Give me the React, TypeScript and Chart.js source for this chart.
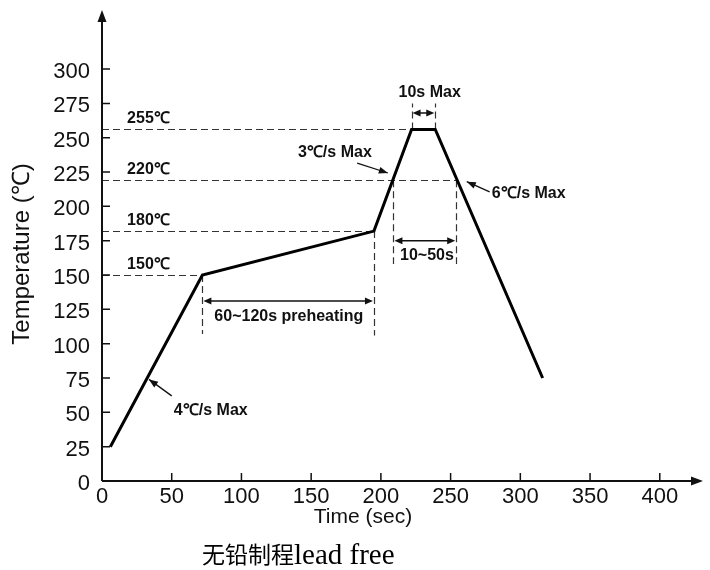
import React, { useEffect, useRef } from "react";
import { Chart, registerables } from "chart.js";

Chart.register(...registerables);

// ---- data ----
const profileTime = [6, 72, 195, 222, 239, 316];
const profileTemp = [25, 150, 182, 256, 256, 75];

const xMax = 431;
const yMax = 343;
const xStep = 50;
const yStep = 25;
const xLastTick = 400;
const yLastTick = 300;

// horizontal reference levels
const refLevels = [150, 182, 219, 256];
const refLabels = ["150℃", "180℃", "220℃", "255℃"];
const refEndTime = [72, 195, 254, 222];
const refLabelTime = 18;

// vertical dashed markers
const markerTime = [72, 195, 209, 254, 222, 239];
const markerFrom = [150, 182, 219, 219, 256, 256];
const markerTo = [107, 106, 158, 158, 275, 275];

// double-headed span arrows
const spanStart = [72, 209, 222];
const spanEnd = [195, 254, 239];
const spanTemp = [131, 175, 268];
const spanLabels = ["60~120s preheating", "10~50s", "10s Max"];
const spanLabelTime = [134, 233, 235];
const spanLabelTemp = [120, 164, 283];

// slope notes with pointer arrows
const slopeLabels = ["4℃/s Max", "3℃/s Max", "6℃/s Max"];
const slopeLabelTime = [78, 167, 306];
const slopeLabelTemp = [51.5, 239.5, 209];
const slopeArrowFromT = [50, 183, 278];
const slopeArrowFromY = [62, 231.5, 210.5];
const slopeArrowToT = [33.7, 205, 261.6];
const slopeArrowToY = [74, 224.3, 218];

const xTitle = "Time (sec)";
const yTitle = "Temperature (℃)";
const captionCJK = "无铅制程";
const captionLatin = "lead free";

const INK = "#111";
const SANS = "'Liberation Sans', Arial, sans-serif";

function head(ctx: CanvasRenderingContext2D, x1: number, y1: number, x2: number, y2: number, len = 9, half = 3.5) {
  const a = Math.atan2(y2 - y1, x2 - x1);
  ctx.beginPath();
  ctx.moveTo(x2, y2);
  ctx.lineTo(x2 - len * Math.cos(a) + half * Math.sin(a), y2 - len * Math.sin(a) - half * Math.cos(a));
  ctx.lineTo(x2 - len * Math.cos(a) - half * Math.sin(a), y2 - len * Math.sin(a) + half * Math.cos(a));
  ctx.closePath();
  ctx.fill();
}

const annotPlugin = {
  id: "annot",
  beforeDatasetsDraw(chart: any) {
    const { ctx } = chart;
    const x = chart.scales.x;
    const y = chart.scales.y;
    ctx.save();
    ctx.strokeStyle = "#333";
    ctx.lineWidth = 1.2;
    ctx.setLineDash([7, 4]);
    refLevels.forEach((lv, i) => {
      const py = Math.round(y.getPixelForValue(lv)) + 0.5;
      ctx.beginPath();
      ctx.moveTo(x.getPixelForValue(0), py);
      ctx.lineTo(x.getPixelForValue(refEndTime[i]), py);
      ctx.stroke();
    });
    markerTime.forEach((t, i) => {
      const px = Math.round(x.getPixelForValue(t)) + 0.5;
      ctx.beginPath();
      ctx.moveTo(px, y.getPixelForValue(markerFrom[i]));
      ctx.lineTo(px, y.getPixelForValue(markerTo[i]));
      ctx.stroke();
    });
    ctx.restore();
  },
  afterDraw(chart: any) {
    const { ctx } = chart;
    const x = chart.scales.x;
    const y = chart.scales.y;
    const area = chart.chartArea;
    ctx.save();
    ctx.fillStyle = INK;
    ctx.strokeStyle = INK;

    // axes with arrows
    ctx.lineWidth = 2;
    const x0 = x.getPixelForValue(0);
    const y0 = y.getPixelForValue(0);
    ctx.beginPath();
    ctx.moveTo(x0, y0);
    ctx.lineTo(area.right - 4, y0);
    ctx.moveTo(x0, y0);
    ctx.lineTo(x0, area.top + 4);
    ctx.stroke();
    head(ctx, x0, y0, area.right, y0, 12, 4.5);
    head(ctx, x0, y0, x0, area.top, 12, 4.5);

    // tick marks (inside)
    ctx.lineWidth = 1.5;
    ctx.beginPath();
    for (let v = xStep; v <= xLastTick; v += xStep) {
      const px = x.getPixelForValue(v);
      ctx.moveTo(px, y0);
      ctx.lineTo(px, y0 - 8);
    }
    for (let v = yStep; v <= yLastTick; v += yStep) {
      const py = y.getPixelForValue(v);
      ctx.moveTo(x0, py);
      ctx.lineTo(x0 + 8, py);
    }
    ctx.stroke();

    // reference labels
    ctx.font = `bold 16px ${SANS}`;
    ctx.textAlign = "left";
    ctx.textBaseline = "alphabetic";
    refLevels.forEach((lv, i) => {
      ctx.fillText(refLabels[i], x.getPixelForValue(refLabelTime), y.getPixelForValue(lv) - 6);
    });

    // span arrows
    ctx.lineWidth = 1.5;
    spanStart.forEach((s, i) => {
      const py = y.getPixelForValue(spanTemp[i]);
      const a = x.getPixelForValue(s) + 1;
      const b = x.getPixelForValue(spanEnd[i]) - 1;
      ctx.beginPath();
      ctx.moveTo(a + 5, py);
      ctx.lineTo(b - 5, py);
      ctx.stroke();
      head(ctx, b, py, a, py, 8, 3.5);
      head(ctx, a, py, b, py, 8, 3.5);
      ctx.textAlign = "center";
      ctx.textBaseline = "middle";
      ctx.fillText(spanLabels[i], x.getPixelForValue(spanLabelTime[i]), y.getPixelForValue(spanLabelTemp[i]));
    });

    // slope notes
    slopeLabels.forEach((lab, i) => {
      const fx = x.getPixelForValue(slopeArrowFromT[i]);
      const fy = y.getPixelForValue(slopeArrowFromY[i]);
      const tx = x.getPixelForValue(slopeArrowToT[i]);
      const ty = y.getPixelForValue(slopeArrowToY[i]);
      ctx.lineWidth = 1.3;
      ctx.beginPath();
      ctx.moveTo(fx, fy);
      ctx.lineTo(tx, ty);
      ctx.stroke();
      head(ctx, fx, fy, tx, ty, 9, 3.5);
      ctx.textAlign = "center";
      ctx.textBaseline = "middle";
      ctx.fillText(lab, x.getPixelForValue(slopeLabelTime[i]), y.getPixelForValue(slopeLabelTemp[i]));
    });

    // axis titles
    ctx.font = `21px ${SANS}`;
    ctx.textAlign = "center";
    ctx.textBaseline = "middle";
    ctx.fillText(xTitle, 363, 517);
    ctx.save();
    ctx.translate(22, 254);
    ctx.rotate(-Math.PI / 2);
    ctx.font = `24px ${SANS}`;
    ctx.fillText(yTitle, 0, 0);
    ctx.restore();

    // caption
    ctx.textAlign = "left";
    ctx.textBaseline = "alphabetic";
    ctx.fillStyle = "#000";
    ctx.font = `23px 'Noto Sans CJK SC', sans-serif`;
    ctx.fillText(captionCJK, 202, 563);
    const w = ctx.measureText(captionCJK).width;
    ctx.font = `29px 'Liberation Serif', serif`;
    ctx.fillText(captionLatin, 202 + w, 564);

    ctx.restore();
  },
};

export default function App() {
  const ref = useRef<HTMLCanvasElement>(null);
  useEffect(() => {
    const canvas = ref.current;
    if (!canvas) return;
    const chart = new Chart(canvas, {
      type: "line",
      data: {
        datasets: [
          {
            data: profileTime.map((t, i) => ({ x: t, y: profileTemp[i] })),
            borderColor: "#000",
            borderWidth: 3,
            pointRadius: 0,
            tension: 0,
            fill: false,
            borderJoinStyle: "miter",
          },
        ],
      },
      options: {
        animation: false,
        responsive: true,
        maintainAspectRatio: false,
        devicePixelRatio: 1,
        layout: { padding: { top: 10, right: 7, left: 0, bottom: 0 } },
        plugins: { legend: { display: false }, tooltip: { enabled: false }, title: { display: false } },
        scales: {
          x: {
            type: "linear",
            min: 0,
            max: xMax,
            border: { display: false },
            grid: { display: false, drawTicks: false },
            ticks: {
              stepSize: xStep,
              includeBounds: false,
              color: INK,
              padding: 3,
              font: { family: SANS, size: 22 },
              maxRotation: 0,
            },
            afterBuildTicks: (s: any) => {
              s.ticks = s.ticks.filter((t: any) => t.value <= xLastTick);
            },
            afterFit: (s: any) => {
              s.height = 89;
              s.paddingLeft = 0;
              s.paddingRight = 0;
            },
          },
          y: {
            type: "linear",
            min: 0,
            max: yMax,
            border: { display: false },
            grid: { display: false, drawTicks: false },
            ticks: {
              stepSize: yStep,
              includeBounds: false,
              color: INK,
              padding: 12,
              labelOffset: 3,
              font: { family: SANS, size: 22 },
            },
            afterBuildTicks: (s: any) => {
              s.ticks = s.ticks.filter((t: any) => t.value <= yLastTick);
            },
            afterFit: (s: any) => {
              s.width = 102;
              s.paddingTop = 0;
              s.paddingBottom = 0;
            },
          },
        },
      },
      plugins: [annotPlugin],
    } as any);
    return () => chart.destroy();
  }, []);
  return (
    <div style={{ position: "absolute", left: 0, top: 0, width: 710, height: 570, background: "#fff" }}>
      <canvas ref={ref} />
    </div>
  );
}
